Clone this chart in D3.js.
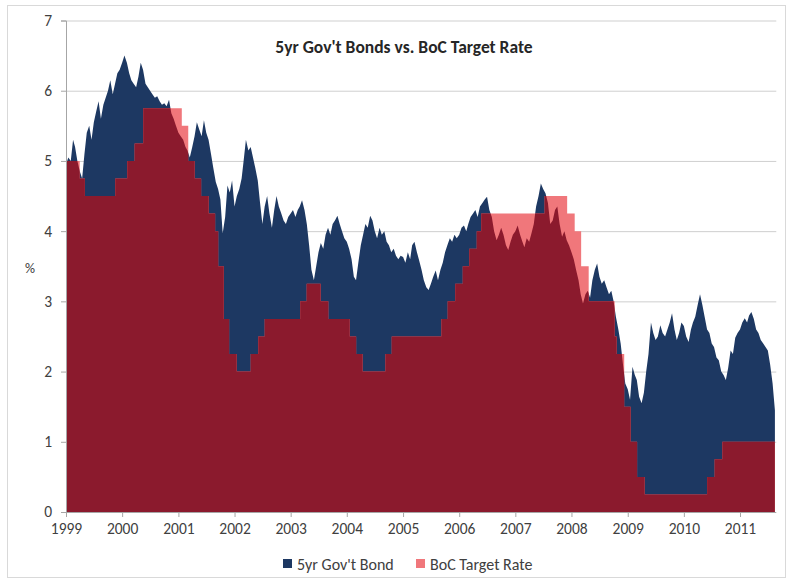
<!DOCTYPE html>
<html><head><meta charset="utf-8">
<script src="https://cdn.jsdelivr.net/npm/d3@7"></script>
<style>body{margin:0;background:#fff}svg{display:block}</style>
</head><body>
<svg id="c" width="793" height="580"></svg>
<script>
// ---- data ----
const yAxisTicks = [0,1,2,3,4,5,6,7];
const xTickYears = [1999,2000,2001,2002,2003,2004,2005,2006,2007,2008,2009,2010,2011];
// 5yr Gov't bond yield, half-monthly (1st and 16th of each month)
const bond1999 = [4.95,5.05,5.0,5.3,5.2,5.0,4.85,4.75,5.1,5.4,5.5,5.3,5.55,5.7,5.85,5.6,5.8,5.9,6.0,6.15,5.95,6.1,6.25,6.3];
const bond2000 = [6.4,6.5,6.4,6.25,6.15,6.1,6.05,6.2,6.4,6.3,6.1,6.05,6.0,5.95,5.9,5.92,5.85,5.8,5.82,5.78,5.87,5.68,5.6,5.5];
const bond2001 = [5.4,5.35,5.3,5.2,5.15,5.05,5.2,5.35,5.55,5.45,5.35,5.58,5.4,5.3,5.1,4.9,4.7,4.6,4.45,3.97,4.2,4.65,4.55,4.72];
const bond2002 = [4.35,4.5,4.6,4.75,5.0,5.3,5.15,5.2,5.05,4.9,4.72,4.4,4.1,4.35,4.5,4.25,4.05,4.3,4.5,4.35,4.25,4.15,4.1,4.2];
const bond2003 = [4.25,4.3,4.2,4.3,4.35,4.44,4.3,4.1,3.8,3.45,3.3,3.5,3.7,3.83,3.75,3.95,4.05,3.95,4.1,4.15,4.22,4.1,4.0,3.9];
const bond2004 = [3.85,3.75,3.6,3.35,3.3,3.55,3.8,3.95,4.1,4.05,4.22,4.15,4.0,3.9,4.05,3.95,4.0,3.85,3.8,3.7,3.75,3.65,3.6,3.65];
const bond2005 = [3.63,3.55,3.7,3.6,3.8,3.85,3.7,3.58,3.45,3.3,3.2,3.16,3.25,3.35,3.44,3.3,3.45,3.55,3.7,3.8,3.9,3.85,3.95,3.9];
const bond2006 = [3.95,4.05,4.08,4.0,4.1,4.2,4.25,4.3,4.2,4.35,4.4,4.45,4.49,4.3,4.2,4.0,3.87,3.95,4.05,3.95,3.8,3.73,3.85,3.95];
const bond2007 = [4.0,4.08,3.95,3.85,3.77,3.9,3.85,3.97,4.1,4.35,4.5,4.68,4.6,4.54,4.4,4.1,4.15,4.3,4.35,4.1,3.92,4.0,3.87,3.8];
const bond2008 = [3.7,3.6,3.44,3.3,3.1,2.97,3.1,3.15,3.05,3.3,3.45,3.54,3.35,3.25,3.3,3.2,3.1,3.15,3.0,2.78,2.6,2.4,2.1,1.83];
const bond2009 = [1.75,1.6,2.07,1.95,1.88,1.64,1.55,1.7,2.0,2.25,2.7,2.55,2.45,2.5,2.66,2.55,2.5,2.6,2.7,2.83,2.6,2.45,2.55,2.7];
const bond2010 = [2.65,2.5,2.42,2.6,2.7,2.78,2.95,3.1,2.95,2.78,2.6,2.55,2.4,2.35,2.2,2.16,2.0,1.95,1.88,2.05,2.3,2.25,2.48,2.55];
const bond2011 = [2.6,2.7,2.76,2.7,2.8,2.85,2.75,2.6,2.55,2.45,2.4,2.35,2.3,2.1,1.83,1.45];
// BoC target rate: change dates and new rates
const targetDates = ["1999-01-01","1999-03-31","1999-05-04","1999-11-17","2000-02-03","2000-03-22","2000-05-17",
  "2001-01-23","2001-03-06","2001-04-17","2001-05-29","2001-07-17","2001-08-28","2001-09-17","2001-10-23","2001-11-27",
  "2002-01-15","2002-04-16","2002-06-04","2002-07-16","2003-03-04","2003-04-15","2003-07-15","2003-09-03",
  "2004-01-20","2004-03-02","2004-04-13","2004-09-08","2004-10-19","2005-09-07","2005-10-18","2005-12-06",
  "2006-01-24","2006-03-07","2006-04-25","2006-05-24","2007-07-10","2007-12-04","2008-01-22","2008-03-04",
  "2008-04-22","2008-10-08","2008-10-21","2008-12-09","2009-01-20","2009-03-03","2009-04-21","2010-06-01",
  "2010-07-20","2010-09-08","2011-08-16"];
const targetRates = [5.00,4.75,4.50,4.75,5.00,5.25,5.75,
  5.50,5.00,4.75,4.50,4.25,4.00,3.50,2.75,2.25,
  2.00,2.25,2.50,2.75,3.00,3.25,3.00,2.75,
  2.50,2.25,2.00,2.25,2.50,2.75,3.00,3.25,
  3.50,3.75,4.00,4.25,4.50,4.25,4.00,3.50,
  3.00,2.50,2.25,1.50,1.00,0.50,0.25,0.50,
  0.75,1.00,1.00];
const seriesNames = ["5yr Gov't Bond","BoC Target Rate"];
const titleText = "5yr Gov't Bonds vs. BoC Target Rate";

// ---- build ----
const bondYears = [bond1999,bond2000,bond2001,bond2002,bond2003,bond2004,bond2005,bond2006,bond2007,bond2008,bond2009,bond2010,bond2011];
const bondData = bondYears.flatMap((arr, yi) => arr.map((v,k) => ({date: new Date(1999+yi, Math.floor(k/2), k%2 ? 16 : 1), v})));
const parse = d3.timeParse("%Y-%m-%d");
const targetData = targetDates.map((d,i) => ({date: parse(d), v: targetRates[i]}));

const COL_NAVY = "#1d3862", COL_RED = "#8b1a2d", COL_PINK = "#f0777b";
const FONT = "Carlito, Lato, 'Open Sans', sans-serif";
const TXT = "#404040";

const svg = d3.select("#c");
svg.append("rect").attr("x",7.5).attr("y",5.5).attr("width",778).attr("height",572)
  .attr("fill","#fff").attr("stroke","#d9d9d9");

const x = d3.scaleTime().domain([new Date(1999,0,1), new Date(2011,0,1)]).range([66,740]);
const y = d3.scaleLinear().domain([0,7]).range([512,20.5]);
const xRight = x(new Date(2011,7,25));

// gridlines
svg.append("g").selectAll("line").data(yAxisTicks.filter(v=>v>0)).join("line")
  .attr("x1",x.range()[0]).attr("x2",xRight)
  .attr("y1",d=>y(d)+0.5).attr("y2",d=>y(d)+0.5)
  .attr("stroke","#cfcfcf").attr("stroke-width",1);

const bondArea = d3.area().x(d=>x(d.date)).y0(y(0)).y1(d=>y(d.v));
const targetArea = d3.area().curve(d3.curveStepAfter).x(d=>x(d.date)).y0(y(0)).y1(d=>y(d.v));

svg.append("clipPath").attr("id","tclip").append("path").attr("d", targetArea(targetData));

svg.append("path").attr("d", bondArea(bondData)).attr("fill", COL_NAVY);
svg.append("path").attr("d", targetArea(targetData)).attr("fill", COL_PINK);
svg.append("path").attr("d", bondArea(bondData)).attr("fill", COL_RED).attr("clip-path","url(#tclip)");

// axes
const yAxis = svg.append("g").attr("transform",`translate(${x.range()[0]},0)`)
  .call(d3.axisLeft(y).tickValues(yAxisTicks).tickFormat(d3.format("d")).tickSize(5).tickPadding(9));
const xAxis = svg.append("g").attr("transform",`translate(0,${y(0)})`)
  .call(d3.axisBottom(x).tickValues(xTickYears.map(yr=>new Date(yr,0,1))).tickFormat(d3.timeFormat("%Y")).tickSize(5).tickPadding(6));
xAxis.select(".domain").remove();
svg.append("line").attr("x1",x.range()[0]).attr("x2",xRight).attr("y1",y(0)+0.5).attr("y2",y(0)+0.5).attr("stroke","#a6a6a6");
[yAxis,xAxis].forEach(g=>{
  g.selectAll("path.domain").attr("stroke","#a6a6a6");
  g.selectAll(".tick line").attr("stroke","#a6a6a6");
  g.selectAll("text").attr("fill",TXT).style("font-family",FONT).style("font-size","15.5px");
});

svg.append("text").attr("x",30).attr("y",y(3.4)).attr("text-anchor","middle")
  .style("font-family",FONT).style("font-size","14px").attr("fill",TXT).text("%");

svg.append("text").attr("x",404).attr("y",53).attr("text-anchor","middle")
  .style("font-family",FONT).style("font-size","17.5px").style("font-weight","bold").attr("fill","#262626")
  .text(titleText);

// legend
const legend = svg.append("g");
const legX = [283, 416];
[COL_NAVY, COL_PINK].forEach((c,i)=>{
  legend.append("rect").attr("x",legX[i]).attr("y",559).attr("width",9).attr("height",9).attr("fill",c);
  legend.append("text").attr("x",legX[i]+14).attr("y",570)
    .style("font-family",FONT).style("font-size","16px").attr("fill",TXT).text(seriesNames[i]);
});
</script>
</body></html>
